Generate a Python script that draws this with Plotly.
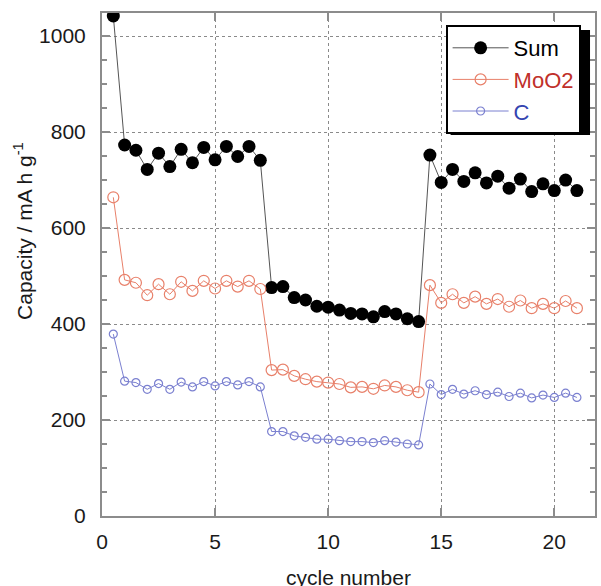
import plotly.graph_objects as go

cycle = [0.5, 1.0, 1.5, 2.0, 2.5, 3.0, 3.5, 4.0, 4.5, 5.0, 5.5, 6.0, 6.5, 7.0,
         7.5, 8.0, 8.5, 9.0, 9.5, 10.0, 10.5, 11.0, 11.5, 12.0, 12.5, 13.0, 13.5, 14.0,
         14.5, 15.0, 15.5, 16.0, 16.5, 17.0, 17.5, 18.0, 18.5, 19.0, 19.5, 20.0, 20.5, 21.0]

sum_cap = [1042, 773, 762, 722, 756, 728, 764, 736, 768, 742, 770, 749, 770, 741,
           476, 478, 455, 450, 437, 435, 429, 422, 421, 415, 426, 421, 411, 405,
           752, 695, 722, 697, 715, 694, 708, 683, 702, 676, 692, 678, 700, 678]

moo2_cap = [664, 492, 486, 460, 483, 462, 488, 469, 490, 474, 490, 478, 490, 473,
            304, 305, 292, 285, 280, 278, 275, 268, 269, 265, 272, 269, 262, 258,
            481, 444, 462, 444, 457, 442, 452, 436, 449, 433, 442, 433, 448, 433]

c_cap = [379, 281, 278, 264, 276, 264, 279, 269, 280, 271, 280, 273, 280, 269,
         176, 176, 167, 164, 160, 160, 157, 155, 155, 153, 157, 154, 150, 148,
         275, 253, 264, 254, 261, 253, 258, 249, 256, 246, 252, 247, 256, 247]

x_ticks = [0, 5, 10, 15, 20]
y_ticks = [0, 200, 400, 600, 800, 1000]

FONT = "Liberation Sans, Arial, sans-serif"
AX = "#8c8c8c"

fig = go.Figure()
fig.add_trace(go.Scatter(
    x=cycle, y=sum_cap, name="Sum", mode="lines+markers",
    line=dict(color="#555555", width=1),
    marker=dict(symbol="circle", size=13, color="black", line=dict(color="black", width=0))))
fig.add_trace(go.Scatter(
    x=cycle, y=moo2_cap, name="<span style='color:#c0302a'>MoO2</span>", mode="lines+markers",
    line=dict(color="#e8806a", width=1),
    marker=dict(symbol="circle-open", size=11, color="#e8806a", line=dict(width=1.2))))
fig.add_trace(go.Scatter(
    x=cycle, y=c_cap, name="<span style='color:#3444b0'>C</span>", mode="lines+markers",
    line=dict(color="#7b80d0", width=1),
    marker=dict(symbol="circle-open", size=8, color="#7b80d0", line=dict(width=1.2))))

axis_common = dict(
    showline=True, linecolor=AX, linewidth=2, mirror="ticks",
    ticks="inside", tickcolor=AX, tickwidth=1.5, ticklen=8,
    showgrid=True, gridcolor="#8a8a8a", griddash="dot", gridwidth=1,
    zeroline=False, tickfont=dict(family=FONT, size=21, color="#1a1a1a"),
)

fig.update_xaxes(range=[0, 21.8], tickvals=x_ticks, ticklabelstandoff=6, **axis_common)
fig.update_yaxes(range=[0, 1048], tickvals=y_ticks, ticklabelstandoff=10,
                 minor=dict(dtick=50, ticks="inside", ticklen=5, tickcolor=AX, showgrid=False),
                 **axis_common)

fig.add_annotation(text="Capacity / mA h g<sup>-1</sup>", textangle=-90,
                   xref="paper", yref="paper", x=-0.16, y=0.567,
                   xanchor="center", yanchor="middle", showarrow=False,
                   font=dict(family=FONT, size=21, color="#1a1a1a"))
fig.add_annotation(text="cycle number", xref="paper", yref="paper",
                   x=0.5, y=-0.123, xanchor="center", yanchor="middle", showarrow=False,
                   font=dict(family=FONT, size=21, color="#1a1a1a"))

# legend drop shadow
fig.add_shape(type="rect", xref="paper", yref="paper",
              x0=(452 - 102) / 495, x1=(592 - 102) / 495,
              y0=(516 - 135) / 503, y1=(516 - 30) / 503,
              fillcolor="black", line=dict(width=0), layer="above")

fig.update_layout(
    width=601, height=586,
    margin=dict(l=102, r=4, t=13, b=70),
    paper_bgcolor="white", plot_bgcolor="white",
    font=dict(family=FONT, size=21, color="#1a1a1a"),
    showlegend=True,
    legend=dict(x=(447 - 102) / 495, y=(516 - 25) / 503, xanchor="left", yanchor="top",
                bgcolor="white", bordercolor="black", borderwidth=2,
                font=dict(family=FONT, size=22, color="black"),
                tracegroupgap=0, itemwidth=56),
)

fig.write_html("out.html")
